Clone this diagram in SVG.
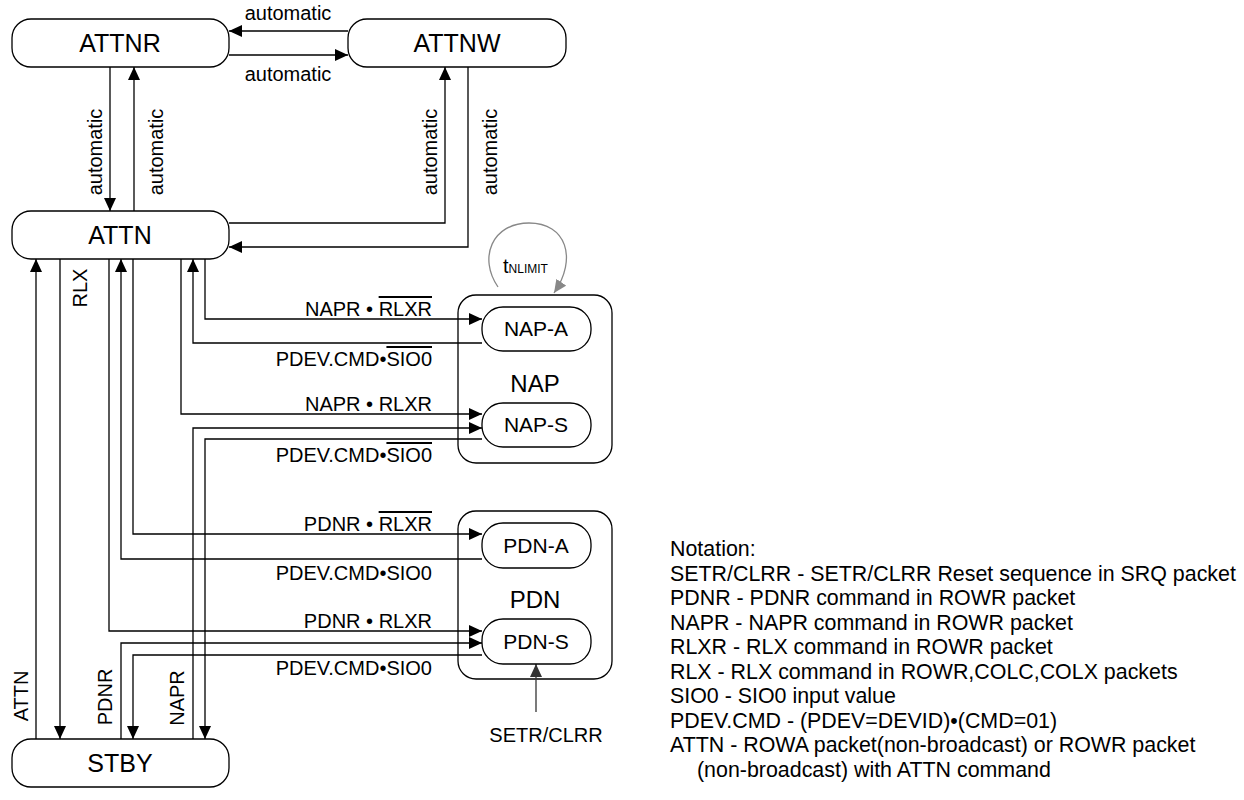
<svg xmlns="http://www.w3.org/2000/svg" width="1244" height="800" viewBox="0 0 1244 800">
<defs>
<style>
.box{fill:#fff;stroke:#000;stroke-width:1.3}
.ln{fill:none;stroke:#000;stroke-width:1.3}
text{font-family:"Liberation Sans",Arial,Helvetica,sans-serif;fill:#000}
.st{font-size:25px;text-anchor:middle}
.sub{font-size:21px;text-anchor:middle}
.grp{font-size:24px;text-anchor:middle}
.lb{font-size:20px;text-anchor:end}
.lm{font-size:20px;text-anchor:middle}
.nt{font-size:21.4px}
.ov{text-decoration:overline}
</style>
<marker id="ah" viewBox="0 0 13 12" refX="13" refY="6" markerWidth="13" markerHeight="12" markerUnits="userSpaceOnUse" orient="auto"><path d="M0,0 L13,6 L0,12 z" fill="#000"/></marker>
<marker id="ahg" viewBox="0 0 13 12" refX="13" refY="6" markerWidth="13" markerHeight="12" markerUnits="userSpaceOnUse" orient="auto"><path d="M0,0 L13,6 L0,12 z" fill="#888"/></marker>
<marker id="ahd" viewBox="0 0 13 12" refX="13" refY="6" markerWidth="13" markerHeight="12" markerUnits="userSpaceOnUse" orient="auto"><path d="M0,0 L13,6 L0,12 z" fill="#333"/></marker>
</defs>

<g id="NAP"><rect class="box" x="458" y="295" width="154" height="168" rx="18"/><text class="grp" x="535" y="392">NAP</text></g>
<g id="PDN"><rect class="box" x="458" y="511" width="154" height="168" rx="18"/><text class="grp" x="535" y="608">PDN</text></g>

<g id="connectors">
<path class="ln" d="M348,31 H229" marker-end="url(#ah)"/>
<path class="ln" d="M229,55 H348" marker-end="url(#ah)"/>
<path class="ln" d="M110,67 V211" marker-end="url(#ah)"/>
<path class="ln" d="M134,211 V67" marker-end="url(#ah)"/>
<path class="ln" d="M229,223 H445 V67" marker-end="url(#ah)"/>
<path class="ln" d="M468,67 V247 H229" marker-end="url(#ah)"/>
<path class="ln" d="M36,739 V259" marker-end="url(#ah)"/>
<path class="ln" d="M60,259 V739" marker-end="url(#ah)"/>
<path class="ln" d="M109,259 V631 H482" marker-end="url(#ah)"/>
<path class="ln" d="M482,559 H121 V259" marker-end="url(#ah)"/>
<path class="ln" d="M121,739 V643 H482" marker-end="url(#ah)"/>
<path class="ln" d="M133,259 V534 H482" marker-end="url(#ah)"/>
<path class="ln" d="M482,655 H133 V739" marker-end="url(#ah)"/>
<path class="ln" d="M181,259 V414 H482" marker-end="url(#ah)"/>
<path class="ln" d="M482,343 H193 V259" marker-end="url(#ah)"/>
<path class="ln" d="M193,739 V428 H482" marker-end="url(#ah)"/>
<path class="ln" d="M205,259 V319 H482" marker-end="url(#ah)"/>
<path class="ln" d="M482,439 H205 V739" marker-end="url(#ah)"/>
<path d="M536,712 V664" fill="none" stroke="#333" stroke-width="1.3" marker-end="url(#ahd)"/>
<path d="M498,287 C478,258 492,223 529,223 C566,223 578,258 554,293" fill="none" stroke="#888" stroke-width="1.3" marker-end="url(#ahg)"/>

<text class="lm" x="288" y="20">automatic</text>
<text class="lm" x="288" y="81">automatic</text>
<text class="lm" transform="translate(102,152) rotate(-90)">automatic</text>
<text class="lm" transform="translate(163,152) rotate(-90)">automatic</text>
<text class="lm" transform="translate(437,152) rotate(-90)">automatic</text>
<text class="lm" transform="translate(497,152) rotate(-90)">automatic</text>
<text class="lm" transform="translate(87,288) rotate(-90)">RLX</text>
<text class="lm" transform="translate(28,696) rotate(-90)">ATTN</text>
<text class="lm" transform="translate(112,697) rotate(-90)">PDNR</text>
<text class="lm" transform="translate(184,698) rotate(-90)">NAPR</text>
<text class="lb" x="432" y="316">NAPR • <tspan class="ov">RLXR</tspan></text>
<text class="lb" x="432" y="366">PDEV.CMD•<tspan class="ov">SIO0</tspan></text>
<text class="lb" x="432" y="411">NAPR • RLXR</text>
<text class="lb" x="432" y="462">PDEV.CMD•<tspan class="ov">SIO0</tspan></text>
<text class="lb" x="432" y="531">PDNR • <tspan class="ov">RLXR</tspan></text>
<text class="lb" x="432" y="580">PDEV.CMD•SIO0</text>
<text class="lb" x="432" y="628">PDNR • RLXR</text>
<text class="lb" x="432" y="675">PDEV.CMD•SIO0</text>
<text class="lm" x="546" y="742">SETR/CLRR</text>
<text x="503" y="273"><tspan font-size="20">t</tspan><tspan font-size="12">NLIMIT</tspan></text>
</g>

<g id="ATTNR"><rect class="box" x="12" y="19" width="217" height="48" rx="19"/><text class="st" x="120" y="52">ATTNR</text></g>
<g id="ATTNW"><rect class="box" x="348" y="19" width="218" height="48" rx="19"/><text class="st" x="457" y="52">ATTNW</text></g>
<g id="ATTN"><rect class="box" x="12" y="211" width="217" height="48" rx="19"/><text class="st" x="120" y="244">ATTN</text></g>
<g id="STBY"><rect class="box" x="12" y="739" width="217" height="48" rx="19"/><text class="st" x="120" y="772">STBY</text></g>

<g id="NAP-A"><rect class="box" x="482" y="307" width="109" height="44" rx="21"/><text class="sub" x="536" y="336">NAP-A</text></g>
<g id="NAP-S"><rect class="box" x="482" y="403" width="109" height="44" rx="21"/><text class="sub" x="536" y="432">NAP-S</text></g>
<g id="PDN-A"><rect class="box" x="482" y="523" width="109" height="45" rx="21"/><text class="sub" x="536" y="553">PDN-A</text></g>
<g id="PDN-S"><rect class="box" x="482" y="619" width="109" height="45" rx="21"/><text class="sub" x="536" y="649">PDN-S</text></g>

<g id="notation">
<text class="nt" x="670" y="556">Notation:</text>
<text class="nt" x="670" y="580.5">SETR/CLRR - SETR/CLRR Reset sequence in SRQ packet</text>
<text class="nt" x="670" y="605">PDNR - PDNR command in ROWR packet</text>
<text class="nt" x="670" y="629.5">NAPR - NAPR command in ROWR packet</text>
<text class="nt" x="670" y="654">RLXR - RLX command in ROWR packet</text>
<text class="nt" x="670" y="678.5">RLX - RLX command in ROWR,COLC,COLX packets</text>
<text class="nt" x="670" y="703">SIO0 - SIO0 input value</text>
<text class="nt" x="670" y="727.5">PDEV.CMD - (PDEV=DEVID)•(CMD=01)</text>
<text class="nt" x="670" y="752">ATTN - ROWA packet(non-broadcast) or ROWR packet</text>
<text class="nt" x="697" y="776.5">(non-broadcast) with ATTN command</text>
</g>
</svg>
